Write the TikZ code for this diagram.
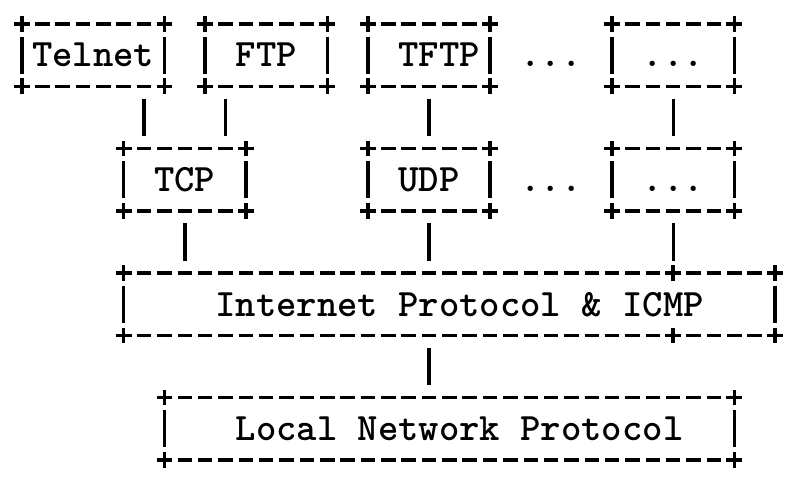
\documentclass[tikz,border=0pt]{standalone}
\usepackage{tikz}
\usetikzlibrary{positioning}
\def\cw{20.35pt}
\def\rh{31.14pt}

\begin{document}
\begin{tikzpicture}[
x=\cw, y=-\rh,
layer/.style={
  draw=none,
  inner sep=0pt,
  outer sep=0pt,
  minimum height=2*\rh,
  text height=23.7pt,
  text depth=0pt,
  font=\fontsize{38.76}{40}\selectfont\ttfamily\bfseries
  },
plain/.style={
  layer,
  minimum height=0pt
  },
edge/.style={
  line width=3.5pt,
  dash pattern=on 14.5pt off 5.85pt,
  dash phase=7.25pt
  },
link/.style={
  line width=3.4pt,
  shorten <=12.6pt,
  shorten >=12.6pt
  },
cross/.style={
  line width=3.5pt
  }
]
\path[fill=white, use as bounding box] (-1.081,-0.7707) rectangle (38.231,14.804);

\node[layer, minimum width=7*\cw] (telnet) at (3.5,1) {Telnet};
\node[layer, minimum width=6*\cw] (ftp) at (12,1) {FTP};
\node[layer, minimum width=6*\cw] (tftp) at (20,1) {\ TFTP};
\node[plain] (dotsa) at (26,1) {...};
\node[layer, minimum width=6*\cw] (more1) at (32,1) {...};

\node[layer, minimum width=6*\cw] (tcp) at (8,5) {TCP};
\node[layer, minimum width=6*\cw] (udp) at (20,5) {UDP};
\node[plain] (dotsb) at (26,5) {...};
\node[layer, minimum width=6*\cw] (more2) at (32,5) {...};

\node[layer, minimum width=32*\cw] (ip) at (21,9) {\ Internet Protocol \& ICMP};
\node[layer, minimum width=28*\cw] (lnp) at (21,13) {\ Local Network Protocol};

\foreach \n in {telnet,ftp,tftp,more1,tcp,udp,more2,ip,lnp}
{\draw[edge] (\n.north west) -- (\n.north east);
 \draw[edge] (\n.south west) -- (\n.south east);
 \draw[link] (\n.north west) -- (\n.south west);
 \draw[link] (\n.north east) -- (\n.south east);
 \foreach \c in {north west,north east,south west,south east}
   \draw[cross] (\n.\c) +(-7.8pt,0) -- +(7.8pt,0) +(0,-7.8pt) -- +(0,7.8pt);
}
\foreach \c in {north,south}
  \draw[cross] (more2.south |- ip.\c) +(-7.8pt,0) -- +(7.8pt,0) +(0,-7.8pt) -- +(0,7.8pt);

\draw[link] ([xshift=\cw]tcp.north west |- telnet.south) -- ([xshift=\cw]tcp.north west);
\draw[link] ([xshift=-\cw]tcp.north east |- ftp.south) -- ([xshift=-\cw]tcp.north east);
\draw[link] (tftp) -- (udp);
\draw[link] (more1) -- (more2);
\draw[link] (tcp.south) -- (tcp.south |- ip.north);
\draw[link] (udp.south) -- (udp.south |- ip.north);
\draw[link] (more2.south) -- (more2.south |- ip.north);
\draw[link] ([xshift=-\cw]ip.south) -- ([xshift=-\cw]lnp.north);
\end{tikzpicture}
\end{document}
